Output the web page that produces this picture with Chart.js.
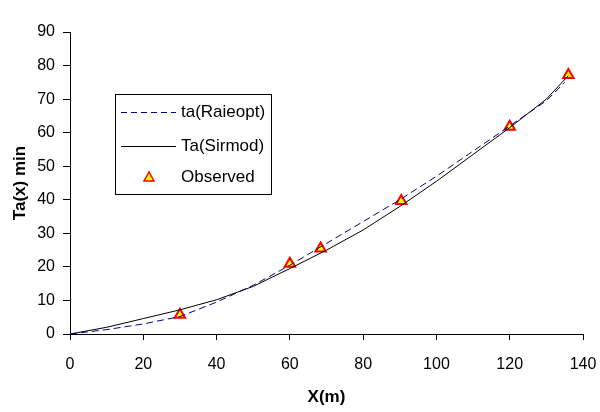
<!DOCTYPE html>
<html>
<head>
<meta charset="utf-8">
<script src="https://cdn.jsdelivr.net/npm/chart.js@4.4.1/dist/chart.umd.min.js"></script>
<style>
  html, body { margin: 0; padding: 0; background: #fff; }
  #wrap { width: 600px; height: 412px; }
</style>
</head>
<body>
<div id="wrap"><canvas id="irrChart" width="600" height="412"></canvas></div>
<script>
// advance time data
const raieoptX = [0, 10, 20, 30, 40, 50, 60, 70, 80, 90, 100, 110, 120, 130, 135];
const raieoptY = [0, 1.3, 3, 5.2, 9.5, 14.5, 20.5, 27, 33.5, 40, 47, 54.5, 62, 69.5, 75];

const sirmodX = [0, 10, 20, 30, 40, 50, 60, 70, 80, 90, 100, 110, 120, 130, 136];
const sirmodY = [0, 2, 4.6, 7.2, 10.2, 14.2, 19.5, 25, 31, 38, 45.5, 53.5, 61.5, 70, 77];

const observedX = [30, 60, 68.4, 90.4, 120, 136];
const observedY = [5.7, 20.9, 25.5, 39.6, 61.8, 77.2];

const seriesNames = ['ta(Raieopt)', 'Ta(Sirmod)', 'Observed'];
const xTitle = 'X(m)';
const yTitle = 'Ta(x) min';

function toPoints(xs, ys) {
    return xs.map((x, i) => ({ x: x, y: ys[i] }));
}

const FONT = 'Liberation Sans, Arial, sans-serif';

// legend box drawn inside the plot area (like the original)
const boxLegend = {
    id: 'boxLegend',
    afterDraw(chart) {
        const ctx = chart.ctx;
        const left = 115, top = 94, w = 156, h = 100;
        ctx.save();
        ctx.fillStyle = '#fff';
        ctx.fillRect(left, top, w, h);
        ctx.strokeStyle = '#000';
        ctx.lineWidth = 1;
        ctx.strokeRect(left + 0.5, top + 0.5, w, h);

        const rows = [112, 146, 177];
        ctx.font = '17px ' + FONT;
        ctx.fillStyle = '#000';
        ctx.textBaseline = 'middle';

        // dashed sample
        ctx.beginPath();
        ctx.strokeStyle = '#000080';
        ctx.setLineDash([6, 4]);
        ctx.moveTo(121, rows[0] + 0.5);
        ctx.lineTo(176, rows[0] + 0.5);
        ctx.stroke();
        ctx.setLineDash([]);

        // solid sample
        ctx.beginPath();
        ctx.strokeStyle = '#000';
        ctx.moveTo(121, rows[1] + 0.5);
        ctx.lineTo(176, rows[1] + 0.5);
        ctx.stroke();

        // triangle sample
        ctx.beginPath();
        ctx.moveTo(149, rows[2] - 5);
        ctx.lineTo(154, rows[2] + 4);
        ctx.lineTo(144, rows[2] + 4);
        ctx.closePath();
        ctx.fillStyle = '#ffff00';
        ctx.fill();
        ctx.strokeStyle = '#ff0000';
        ctx.lineWidth = 1.5;
        ctx.stroke();

        ctx.fillStyle = '#000';
        seriesNames.forEach((name, i) => {
            ctx.fillText(name, 181, rows[i]);
        });
        ctx.restore();
    }
};

const ctx = document.getElementById('irrChart').getContext('2d');
const chart = new Chart(ctx, {
    type: 'line',
    data: {
        datasets: [
            {
                label: seriesNames[0],
                data: toPoints(raieoptX, raieoptY),
                borderColor: '#000080',
                borderWidth: 1,
                borderDash: [7, 4],
                pointRadius: 0,
                tension: 0,
                fill: false
            },
            {
                label: seriesNames[1],
                data: toPoints(sirmodX, sirmodY),
                borderColor: '#000000',
                borderWidth: 1,
                pointRadius: 0,
                tension: 0,
                fill: false
            },
            {
                label: seriesNames[2],
                data: toPoints(observedX, observedY),
                showLine: false,
                pointStyle: 'triangle',
                pointRadius: 6,
                pointBackgroundColor: '#ffff00',
                pointBorderColor: '#ff0000',
                pointBorderWidth: 2
            }
        ]
    },
    options: {
        responsive: false,
        animation: false,
        layout: { padding: { top: 32, right: 17, left: 0, bottom: 0 } },
        plugins: {
            legend: { display: false },
            tooltip: { enabled: false }
        },
        scales: {
            x: {
                type: 'linear',
                min: 0,
                max: 140,
                ticks: { stepSize: 20, color: '#000', font: { family: FONT, size: 16 }, padding: 15, maxRotation: 0 },
                grid: { drawOnChartArea: false, color: '#000', tickLength: 6 },
                border: { color: '#000', width: 1 },
                title: { display: true, text: xTitle, color: '#000', font: { family: FONT, size: 17, weight: 'bold' }, padding: { top: 4, bottom: 4 } },
                afterFit(scale) {
                    scale.height = 78;
                    scale.paddingLeft = 0;
                    scale.paddingRight = 0;
                }
            },
            y: {
                min: 0,
                max: 90,
                ticks: { stepSize: 10, color: '#000', font: { family: FONT, size: 16 }, padding: 8 },
                grid: { drawOnChartArea: false, color: '#000', tickLength: 7 },
                border: { color: '#000', width: 1 },
                title: { display: true, text: yTitle, color: '#000', font: { family: FONT, size: 17, weight: 'bold' }, padding: { top: 10, bottom: 4 } },
                afterFit(scale) {
                    scale.width = 70;
                    scale.paddingTop = 0;
                    scale.paddingBottom = 0;
                }
            }
        }
    },
    plugins: [boxLegend]
});
</script>
</body>
</html>
